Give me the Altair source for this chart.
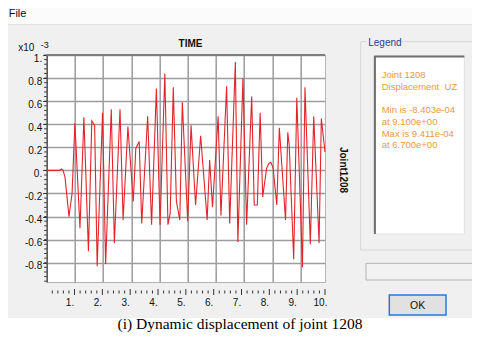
import altair as alt
import pandas as pd

# ---- data (displacement in units of 1e-3) ----
time_s = [0.0, 0.45, 0.52, 0.58, 0.65, 0.79, 0.9, 1.0, 1.18, 1.32, 1.48, 1.6, 1.7, 1.79,
          1.98, 2.09, 2.29, 2.40, 2.60, 2.71, 2.88, 3.07, 3.16, 3.28, 3.37, 3.58, 3.72,
          3.89, 4.02, 4.19, 4.30, 4.38, 4.49, 4.60, 4.72, 4.81, 5.00, 5.12, 5.28, 5.46,
          5.69, 5.78, 5.88, 6.08, 6.18, 6.38, 6.49, 6.69, 6.78, 6.96, 7.09, 7.27, 7.36,
          7.47, 7.57, 7.66, 7.80, 7.88, 7.95, 8.03, 8.16, 8.25, 8.47, 8.55, 8.60, 8.76,
          8.87, 9.07, 9.16, 9.35, 9.47, 9.66, 9.74, 9.87]
disp = [0.0, 0.0, 0.012, 0.0, -0.06, -0.40, -0.20, 0.41, -0.50, 0.46, -0.70, 0.43, 0.39, -0.83,
        0.50, -0.81, 0.53, -0.63, 0.53, -0.43, 0.38, -0.27, 0.19, 0.25, -0.46, 0.47, -0.47,
        0.71, -0.47, 0.84, -0.47, -0.37, 0.72, -0.27, -0.43, 0.59, -0.44, 0.39, -0.30, 0.30,
        -0.43, 0.09, -0.32, 0.47, -0.39, 0.73, -0.46, 0.94, -0.62, 0.80, -0.47, 0.64, -0.30,
        -0.30, 0.50, -0.23, 0.02, 0.06, 0.07, 0.02, -0.30, 0.37, -0.43, 0.33, 0.22, -0.77,
        0.63, -0.84, 0.72, -0.64, 0.47, -0.63, 0.45, 0.16]

y_tick_values = [-0.8, -0.6, -0.4, -0.2, 0.0, 0.2, 0.4, 0.6, 0.8, 1.0]
y_tick_labels = ["-0.8", "-0.6", "-0.4", "-0.2", "0.", "0.2", "0.4", "0.6", "0.8", "1."]
x_grid_values = [1, 2, 3, 4, 5, 6, 7, 8, 9]
x_tick_values = [1, 2, 3, 4, 5, 6, 7, 8, 9, 10]
x_tick_labels = ["1.", "2.", "3.", "4.", "5.", "6.", "7.", "8.", "9.", "10."]
legend_lines = ["Joint 1208", "Displacement\u00a0 UZ", "", "Min is -8.403e-04",
                "at 9.100e+00", "Max is 9.411e-04", "at 6.700e+00"]

W, H = 278.3, 227
FONT = "Liberation Sans"

series = pd.DataFrame({"t": time_s, "v": disp})
y_minor = pd.DataFrame({"v": [round(-0.96 + 0.04 * i, 2) for i in range(50) if round(-0.96 + 0.04 * i, 2) <= 1.0]})
x_minor = pd.DataFrame({"r": [i / 5 for i in range(1, 51) if i % 5 != 0]})
x_major = pd.DataFrame({"r": x_tick_values, "lab": x_tick_labels})
one = alt.Data(values=[{"a": 1}])

label_expr = ""
for v, lab in zip(y_tick_values, y_tick_labels):
    label_expr += f"abs(datum.value - ({v})) < 1e-6 ? '{lab}' : "
label_expr += "datum.label"

x_scale = alt.Scale(domain=[0, 9.87], nice=False, zero=False)
y_scale = alt.Scale(domain=[-0.967, 1.0], nice=False, zero=False)
y_axis = alt.Axis(values=y_tick_values, grid=True, gridColor="#9c9c9c", gridWidth=1.5,
                  labelExpr=label_expr, labelFont=FONT, labelFontSize=10, labelColor="#111",
                  labelOffset=3, labelPadding=1, tickSize=4, tickColor="#333",
                  domainColor="#555", domainWidth=1.5, title=None)

line = alt.Chart(series).mark_line(color="#e4232b", strokeWidth=1.1).encode(
    x=alt.X("t:Q", scale=x_scale,
            axis=alt.Axis(values=x_grid_values, grid=True, gridColor="#9c9c9c", gridWidth=1.5,
                          labels=False, ticks=False, domain=False, title=None)),
    y=alt.Y("v:Q", scale=y_scale, axis=y_axis),
)
yminor = alt.Chart(y_minor).mark_rule(color="#333", strokeWidth=1).encode(
    y=alt.Y("v:Q", scale=y_scale, axis=y_axis),
    x=alt.value(-2.5), x2=alt.value(0),
)
main = alt.layer(line, yminor)

r_scale = alt.Scale(domain=[0, 10], nice=False, zero=False)
r_minor = alt.Chart(x_minor).mark_rule(color="#333", strokeWidth=1).encode(
    x=alt.X("r:Q", scale=r_scale, axis=None), y=alt.value(235.5), y2=alt.value(238.5))
r_major = alt.Chart(x_major).mark_rule(color="#333", strokeWidth=1).encode(
    x=alt.X("r:Q", scale=r_scale, axis=None), y=alt.value(234), y2=alt.value(240))
r_labels = alt.Chart(x_major).mark_text(font=FONT, fontSize=10, color="#111", dx=-4.5,
                                        baseline="middle", align="center").encode(
    x=alt.X("r:Q", scale=r_scale, axis=None), y=alt.value(247.5), text="lab:N")
ruler = alt.layer(r_minor, r_major, r_labels)


def txt(s, x, y, **kw):
    return alt.Chart(one).mark_text(**kw).encode(x=alt.value(x), y=alt.value(y), text=alt.value(s))


def box(x1, x2, y1, y2, **kw):
    return alt.Chart(one).mark_rect(**kw).encode(
        x=alt.value(x1), x2=alt.value(x2), y=alt.value(y1), y2=alt.value(y2))


def hline(x1, x2, y, **kw):
    return alt.Chart(one).mark_rule(**kw).encode(x=alt.value(x1), x2=alt.value(x2), y=alt.value(y))


def vline(x, y1, y2, **kw):
    return alt.Chart(one).mark_rule(**kw).encode(x=alt.value(x), y=alt.value(y1), y2=alt.value(y2))


legend_texts = [
    txt(s, 335, 20 + 11.7 * i, font=FONT, fontSize=9.5, color="#e99a3d", align="left",
        baseline="middle")
    for i, s in enumerate(legend_lines) if s
]

decor = [
    box(-60, 450, -60, -31, color="#fbfbfb"),
    hline(-60, 450, -30.5, color="#e2e2e2", strokeWidth=1),
    box(-60, 450, 263, 290, color="#ffffff"),
    txt("File", -38, -41.5, font=FONT, fontSize=11, color="#111", align="left", baseline="middle"),
    txt("x10", -28.5, -7, font=FONT, fontSize=10, color="#111", align="left", baseline="middle"),
    txt("-3", -6, -10.5, font=FONT, fontSize=9, color="#111", align="left", baseline="middle"),
    txt("TIME", 143.8, -11, font=FONT, fontSize=10, fontWeight="bold", color="#111",
        align="center", baseline="middle"),
    txt("Joint1208", 296.5, 115, font=FONT, fontSize=10, fontWeight="bold", color="#111",
        align="center", baseline="middle", angle=90),
    # legend group box
    box(314, 431.3, -13.3, 195, fillOpacity=0, stroke="#d6d6d6", strokeWidth=1),
    box(319.5, 353, -17, -8, color="#f0f0f0"),
    txt("Legend", 321.5, -12, font=FONT, fontSize=10, color="#23408e", align="left",
        baseline="middle"),
    box(327.6, 417.6, 1, 179, fill="#ffffff", stroke="#e0e0e0", strokeWidth=1),
    hline(327.6, 417.6, 1.5, color="#6e6e6e", strokeWidth=2),
    vline(328.2, 1, 179, color="#6e6e6e", strokeWidth=2),
    *legend_texts,
    # text field and OK button
    box(319.3, 428.3, 208.3, 225, fill="#f2f2f2", stroke="#b4b4b4", strokeWidth=1),
    box(342.6, 399.3, 240, 260, fill="#e1e1e1", stroke="#2a78d4", strokeWidth=1.5),
    txt("OK", 371, 250.5, font=FONT, fontSize=10.5, color="#111", align="center",
        baseline="middle"),
    # caption
    txt("(i) Dynamic displacement of joint 1208", 193.3, 268.5, font="Liberation Serif",
        fontSize=15.5, color="#000", align="center", baseline="middle"),
    # darker top frame of the plot
    hline(0, W, 0, color="#7c7c7c", strokeWidth=2),
]

chart = alt.layer(main, ruler, *decor).resolve_scale(x="independent").properties(
    width=W, height=H,
    autosize=alt.AutoSizeParams(type="none"),
    padding={"left": 38.7, "top": 47, "right": 147, "bottom": 50},
    background="#f0f0f0",
).configure_view(stroke="#b4b4b4", fill="#ffffff")

chart.save("out.html", embed_options={"renderer": "svg", "actions": False})
